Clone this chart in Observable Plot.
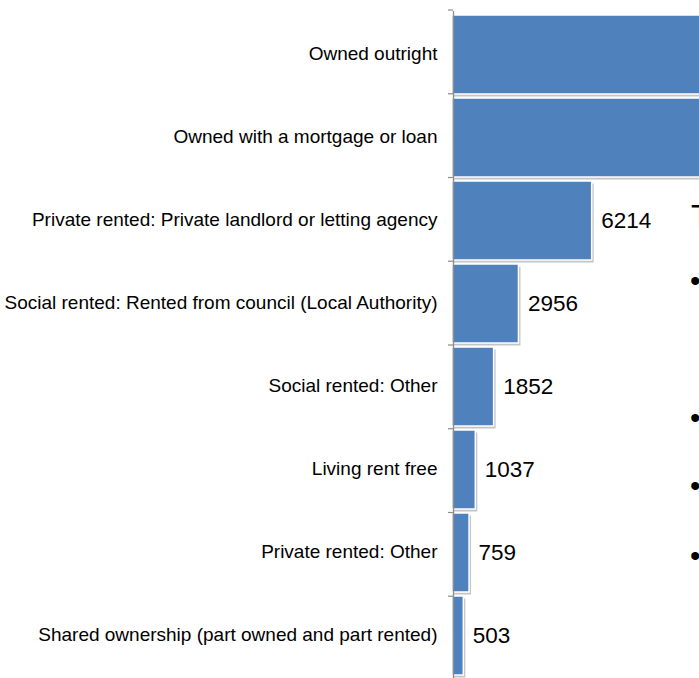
<!DOCTYPE html>
<html>
<head>
<meta charset="utf-8">
<script src="https://cdn.jsdelivr.net/npm/d3@7"></script>
<script src="https://cdn.jsdelivr.net/npm/@observablehq/plot@0.6"></script>
<style>
  html, body { margin: 0; padding: 0; background: #fff; overflow: hidden; }
  #wrap { position: relative; width: 699px; height: 678px; overflow: hidden; }
  #box { position: absolute; left: 0; top: 0; font-family: "Liberation Sans", Arial, sans-serif; color: #000; }
  #box span { position: absolute; line-height: 1; }
</style>
</head>
<body>
<div id="wrap">
  <div id="chart"></div>
  <div id="box">
    <span style="left:691px; top:200px; font-size:32px;">T</span>
    <span style="left:690px; top:266px; font-size:30px;">•</span>
    <span style="left:690px; top:403px; font-size:30px;">•</span>
    <span style="left:690px; top:471px; font-size:30px;">•</span>
    <span style="left:690px; top:541px; font-size:30px;">•</span>
  </div>
</div>
<script>
const categories = [
  "Owned outright",
  "Owned with a mortgage or loan",
  "Private rented: Private landlord or letting agency",
  "Social rented: Rented from council (Local Authority)",
  "Social rented: Other",
  "Living rent free",
  "Private rented: Other",
  "Shared ownership (part owned and part rented)"
];
const households = [15800, 14900, 6214, 2956, 1852, 1037, 759, 503];

const data = categories.map((c, i) => ({category: c, value: households[i]}));

const font = "Liberation Sans, Arial, sans-serif";

const plot = Plot.plot({
  width: 699,
  height: 678,
  marginLeft: 452,
  marginRight: 0,
  marginTop: 11,
  marginBottom: 0,
  style: {fontFamily: font, background: "#fff", overflow: "hidden"},
  x: {domain: [0, 10000], range: [452, 676.8], axis: null},
  y: {domain: categories, range: [10, 680], paddingInner: 0.05, paddingOuter: 0.025, label: null},
  marks: [
    // drop shadow
    Plot.barX(data, {x: "value", y: "category", fill: "#c4c4c4", dx: 2, dy: 2.5}),
    Plot.barX(data, {x: "value", y: "category", fill: "#4f81bd", stroke: "#fff", strokeWidth: 1.5}),
    Plot.ruleX([0], {stroke: "#8c8c8c", strokeWidth: 1.3, dx: 1}),
    Plot.axisY({tickSize: 0, tickPadding: 15, fontSize: 19, fill: "#000", dy: -1.5, label: null}),
    Plot.text(data, {x: "value", y: "category", text: d => String(d.value), textAnchor: "start", dx: 9, fontSize: 22.5, fill: "#000"})
  ]
});
document.getElementById("chart").appendChild(plot);

// tick marks at category boundaries (Excel style), from Plot's y scale
const ys = plot.scale("y");
const step = (ys.range[1] - ys.range[0]) / categories.length;
const svg = d3.select(plot);
const g = svg.append("g").attr("stroke", "#8c8c8c").attr("stroke-width", 1.2);
for (let i = 0; i <= categories.length; i++) {
  const yy = ys.range[0] + i * step;
  g.append("line").attr("x1", 448).attr("x2", 453).attr("y1", yy).attr("y2", yy);
}
</script>
</body>
</html>
